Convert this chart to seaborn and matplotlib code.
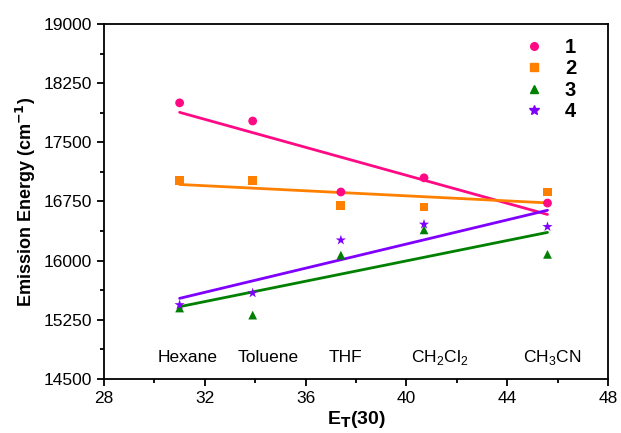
import numpy as np
import pandas as pd
import matplotlib
matplotlib.use("Agg")
import matplotlib.pyplot as plt
import seaborn as sns

# E_T(30) values of the solvents
solvents = ["Hexane", "Toluene", "THF", "CH$_2$Cl$_2$", "CH$_3$CN"]
et30 = [31.0, 33.9, 37.4, 40.7, 45.6]

# emission energies (cm-1) for compounds 1-4
e1 = [18000, 17770, 16870, 17050, 16730]
e2 = [17020, 17020, 16700, 16680, 16870]
e3 = [15400, 15310, 16070, 16390, 16080]
e4 = [15440, 15590, 16260, 16460, 16430]

series_names = ["1", "2", "3", "4"]
colors = ["#ff0a84", "#ff8000", "#008000", "#8000ff"]
markers = ["o", "s", "^", "*"]

label_x = [31.3, 34.5, 37.6, 41.3, 45.8]
label_y = 14770

df = pd.DataFrame({"ET30": et30 * 4,
                   "E": e1 + e2 + e3 + e4,
                   "cpd": sum([[n] * len(et30) for n in series_names], [])})

sns.set_style("ticks")
plt.rcParams["font.family"] = ["Liberation Sans", "DejaVu Sans"]
plt.rcParams["mathtext.fontset"] = "custom"
plt.rcParams["mathtext.rm"] = "Liberation Sans"
plt.rcParams["text.color"] = "black"
plt.rcParams["axes.labelcolor"] = "black"
plt.rcParams["xtick.color"] = "black"
plt.rcParams["ytick.color"] = "black"
plt.rcParams["axes.edgecolor"] = "black"

fig = plt.figure(figsize=(6.21, 4.33), dpi=100)
ax = fig.add_axes([0.1675, 0.1247, 0.8115, 0.82])

handles = []
for name, c, m in zip(series_names, colors, markers):
    sub = df[df["cpd"] == name]
    sns.regplot(data=sub, x="ET30", y="E", ax=ax, scatter=False, ci=None,
                truncate=True, color=c, line_kws={"lw": 2})
    size = 60 if m == "*" else 40
    sns.scatterplot(data=sub, x="ET30", y="E", ax=ax, color=c, marker=m,
                    s=size, edgecolor="none", zorder=3)
    handles.append(plt.Line2D([], [], ls="none", marker=m, color=c,
                              markersize=7 if m == "*" else 5.5, label=name))

for s, lx in zip(solvents, label_x):
    ax.text(lx, label_y, s, ha="center", va="center", fontsize=12.5)

ax.set_xlim(28, 48)
ax.set_ylim(14500, 19000)
ax.set_xticks(np.arange(28, 49, 4))
ax.set_xticks(np.arange(30, 48, 4), minor=True)
ax.set_yticks(np.arange(14500, 19001, 750))
ax.set_yticks(np.arange(14875, 19000, 750), minor=True)
ax.tick_params(axis="both", which="major", labelsize=12.5, length=5, width=1.3, direction="out")
ax.tick_params(axis="both", which="minor", length=3, width=1.3, direction="out")
for sp in ax.spines.values():
    sp.set_linewidth(1.3)
    sp.set_visible(True)

ax.set_xlabel("E$_\\mathbf{T}$(30)", fontsize=14, fontweight="bold", labelpad=2)
ax.set_ylabel("Emission Energy (cm$^{\\mathbf{-1}}$)", fontsize=13, fontweight="bold", labelpad=4)

leg = ax.legend(handles=handles, loc="upper right", frameon=False,
                prop={"weight": "bold", "size": 14.5}, handletextpad=0.55,
                labelspacing=0.12, borderaxespad=0.3, bbox_to_anchor=(0.965, 1.0))

fig.savefig("out.png", dpi=100)
